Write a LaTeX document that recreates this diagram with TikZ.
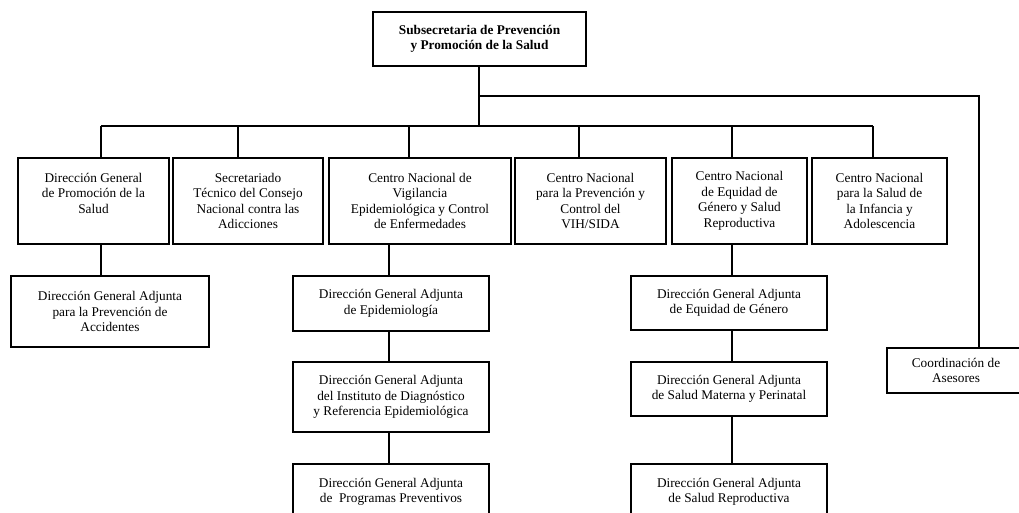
\documentclass[tikz,border=0pt]{standalone}
\usepackage{fontspec}
\setmainfont{Liberation Serif}
\begin{document}
\begin{tikzpicture}[x=1pt,y=-1pt,
  box/.style={draw, line width=2.9pt, inner sep=0pt, align=center,
    font=\fontsize{13.3}{15.5}\selectfont},
  topbox/.style={box, font=\bfseries\fontsize{13.3}{15}\selectfont},
  wire/.style={line width=2.9pt}]
\clip (0,0) rectangle (1019,512);
% top
\node[topbox, minimum width=213, minimum height=54] (top) at (479.5,39)
  {Subsecretaria de Prevención\\y Promoción de la Salud};
% row 1
\node[box, minimum width=151, minimum height=86] (b1) at (93.5,201)
  {Dirección General\\de Promoción de la\\Salud\\\phantom{Salud}};
\node[box, minimum width=150, minimum height=86] (b2) at (248,201)
  {Secretariado\\Técnico del Consejo\\Nacional contra las\\Adicciones};
\node[box, minimum width=182, minimum height=86] (b3) at (420,201)
  {Centro Nacional de\\Vigilancia\\Epidemiológica y Control\\de Enfermedades};
\node[box, minimum width=151, minimum height=86] (b4) at (590.5,201)
  {Centro Nacional\\para la Prevención y\\Control del\\VIH/SIDA};
\node[box, minimum width=135, minimum height=86] (b5) at (739.5,201)
  {Centro Nacional\\de Equidad de\\Género y Salud\\Reproductiva};
\node[box, minimum width=135, minimum height=86] (b6) at (879.5,201)
  {Centro Nacional\\para la Salud de\\la Infancia y\\Adolescencia};
% column 1
\node[box, minimum width=198, minimum height=71] (c1) at (110,311.5)
  {Dirección General Adjunta\\para la Prevención de\\Accidentes};
% column 3
\node[box, minimum width=196, minimum height=55] (c3a) at (391,303.5)
  {Dirección General Adjunta\\de Epidemiología};
\node[box, minimum width=196, minimum height=70] (c3b) at (391,397)
  {Dirección General Adjunta\\del Instituto de Diagnóstico\\y Referencia Epidemiológica};
\node[box, minimum width=196, minimum height=56] (c3c) at (391,492)
  {Dirección General Adjunta\\de\ \ Programas Preventivos};
% column 5
\node[box, minimum width=196, minimum height=54] (c5a) at (729,303)
  {Dirección General Adjunta\\de Equidad de Género};
\node[box, minimum width=196, minimum height=54] (c5b) at (729,389)
  {Dirección General Adjunta\\de Salud Materna y Perinatal};
\node[box, minimum width=196, minimum height=56] (c5c) at (729,492)
  {Dirección General Adjunta\\de Salud Reproductiva};
% advisers
\node[box, minimum width=138, minimum height=45] (co) at (956,370.5)
  {Coordinación de\\Asesores};
% junctions
\coordinate (j1) at (479,96);
\coordinate (j2) at (479,126);
\coordinate (jr) at (979,96);
\coordinate (d1) at (101,126);
\coordinate (d2) at (238,126);
\coordinate (d3) at (409,126);
\coordinate (d4) at (579,126);
\coordinate (d5) at (732,126);
\coordinate (d6) at (873,126);
\coordinate (v3) at (389,0);
\coordinate (v5) at (732,0);
% connectors
\draw[wire] (top.south -| j1) -- (j2);
\draw[wire] (j1) -- (jr) -- (jr |- co.north);
\draw[wire] (d1) -- (d6);
\draw[wire] (d1) -- (d1 |- b1.north);
\draw[wire] (d2) -- (d2 |- b2.north);
\draw[wire] (d3) -- (d3 |- b3.north);
\draw[wire] (d4) -- (d4 |- b4.north);
\draw[wire] (d5) -- (d5 |- b5.north);
\draw[wire] (d6) -- (d6 |- b6.north);
\draw[wire] (d1 |- b1.south) -- (d1 |- c1.north);
\draw[wire] (v3 |- b3.south) -- (v3 |- c3a.north);
\draw[wire] (v3 |- c3a.south) -- (v3 |- c3b.north);
\draw[wire] (v3 |- c3b.south) -- (v3 |- c3c.north);
\draw[wire] (v5 |- b5.south) -- (v5 |- c5a.north);
\draw[wire] (v5 |- c5a.south) -- (v5 |- c5b.north);
\draw[wire] (v5 |- c5b.south) -- (v5 |- c5c.north);
\end{tikzpicture}
\end{document}
